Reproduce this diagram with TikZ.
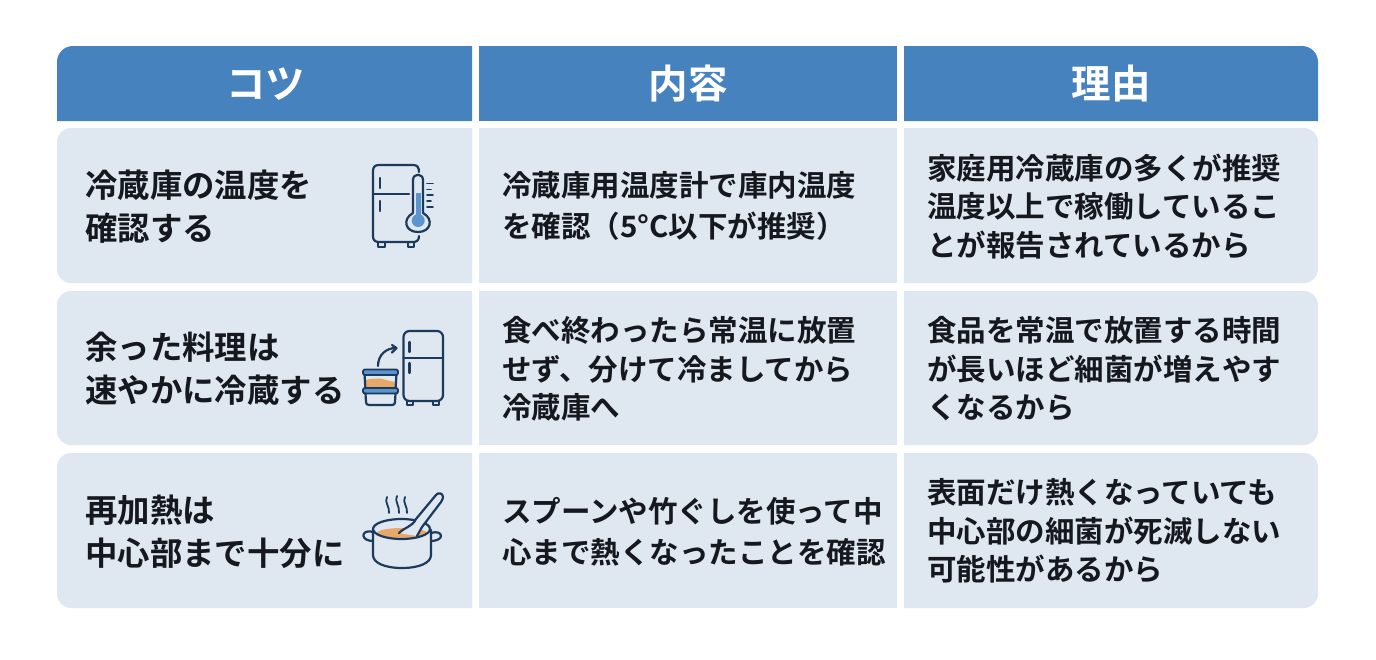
\documentclass[tikz,border=0pt]{standalone}
\usepackage{fontspec}
\newfontfamily\jp{Noto Sans CJK JP}[BoldFont={* Bold}]
\definecolor{hdr}{HTML}{4682BE}
\definecolor{cell}{HTML}{DFE7F0}
\definecolor{ink}{HTML}{15181F}
\definecolor{ico}{HTML}{1C3A5C}
\definecolor{icb}{HTML}{5B95CF}
\definecolor{ico2}{HTML}{E8A868}
\tikzset{
 hd/.style={font=\jp\bfseries\fontsize{39.5}{40}\selectfont,text=white,anchor=center,inner sep=0},
 ta/.style={font=\jp\fontsize{32.4}{43}\selectfont\bfseries,text=ink,anchor=west,align=left,inner sep=0},
 tb/.style={font=\jp\fontsize{29.5}{41}\selectfont\bfseries,text=ink,anchor=west,align=left,inner sep=0},
 tc/.style={font=\jp\fontsize{29.5}{38.5}\selectfont\bfseries,text=ink,anchor=west,align=left,inner sep=0},
 ic/.style={draw=ico,line width=2.2pt,line cap=round,line join=round,fill=none},
 ict/.style={ic,line width=1.8pt},
}
\begin{document}
\begin{tikzpicture}[x=1pt,y=-1pt]
\useasboundingbox (0,0) rectangle (1376,659);
\fill[white] (0,0) rectangle (1376,659);
% headers
\fill[hdr] (472,121) -- (57,121) [rounded corners=16pt] -- (57,46) [sharp corners] -- (472,46) -- cycle;
\fill[hdr] (479,46) rectangle (897,121);
\fill[hdr] (904,46) [rounded corners=16pt] -- (1318,46) [sharp corners] -- (1318,121) -- (904,121) -- cycle;
% cells
\foreach \t/\b in {128/283,291/445,453/608}{
 \fill[cell] (472,\t) -- (472,\b) [rounded corners=14pt] -- (57,\b) -- (57,\t) [sharp corners] -- cycle;
 \fill[cell] (479,\t) rectangle (897,\b);
 \fill[cell] (904,\t) -- (904,\b) [rounded corners=14pt] -- (1318,\b) -- (1318,\t) [sharp corners] -- cycle;
}
\node[hd] (h1) at (265.5,84) {コツ};
\node[hd] (h2) at (688,84) {内容};
\node[hd] (h3) at (1111,84) {理由};
\node[ta] (a1) at (85,206.5) {冷蔵庫の温度を\\確認する};
\node[tb] (b1) at (502,206) {冷蔵庫用温度計で庫内温度\\を確認（5°C以下が推奨）};
\node[tc] (c1) at (927,206.5) {家庭用冷蔵庫の多くが推奨\\温度以上で稼働しているこ\\とが報告されているから};
\node[ta] (a2) at (85,369) {余った料理は\\速やかに冷蔵する};
\node[tc] (b2) at (502,369) {食べ終わったら常温に放置\\せず、分けて冷ましてから\\冷蔵庫へ};
\node[tc] (c2) at (927,369) {食品を常温で放置する時間\\が長いほど細菌が増えやす\\くなるから};
\node[ta] (a3) at (85,531.5) {再加熱は\\中心部まで十分に};
\node[tb] (b3) at (502,532) {スプーンや竹ぐしを使って中\\心まで熱くなったことを確認};
\node[tc] (c3) at (927,531) {表面だけ熱くなっていても\\中心部の細菌が死滅しない\\可能性があるから};
% icon 1: refrigerator with thermometer
\draw[ic] (419,172) .. controls (419,167) and (417,165) .. (413,165) -- (379,165) .. controls (375,165) and (373,167) .. (373,171) -- (373,236) .. controls (373,240) and (375,242) .. (379,242) -- (413,242) .. controls (417,242) and (419,240) .. (419,236);
\draw[ic] (373,194) -- (409,194);
\draw[ic] (380,178) -- (380,188) (380,201) -- (380,211);
\draw[ict] (378,242) rectangle (385,247) (408,242) rectangle (414,247);
\fill[icb] (416,193) rectangle (420.5,216);
\fill[icb] (418.2,220.5) circle (6.5);
\draw[ic] (413,213) -- (413,180) .. controls (413,173) and (423,173) .. (423,180) -- (423,213) .. controls (434,219) and (431,232) .. (418,232) .. controls (405,232) and (402,219) .. (413,213);
\draw[ict] (427,183.5) -- (433,183.5) (427,189.5) -- (431,189.5) (427,195) -- (433,195) (427,201) -- (431,201) (427,207) -- (433,207);
% icon 2: containers and refrigerator
\draw[ic,rounded corners=6pt] (403.5,331) rectangle (443,401);
\draw[ic] (403.5,358) -- (443,358);
\draw[ic] (409.5,342) -- (409.5,352) (409.5,363) -- (409.5,373);
\draw[ict] (407,401) rectangle (413,405) (433,401) rectangle (439,405);
\draw[ic] (378,366) .. controls (378,355) and (386,348) .. (396,348);
\draw[ic] (392,345) -- (396.5,348) -- (392,352.5);
\fill[ico2] (366,380) .. controls (372,378) and (376,379) .. (381,378.5) .. controls (385,380) and (390,381) .. (395,382) -- (395,389) -- (366,389) -- cycle;
\draw[ic] (364.5,374) -- (365.5,390) (396.5,374) -- (395.5,390);
\draw[ic,fill=icb,line width=1.8pt,rounded corners=2pt] (363,369.5) rectangle (398,375);
\draw[ic,fill=icb,line width=1.8pt,rounded corners=2pt] (363,388) rectangle (398,393.5);
\draw[ic] (365.5,393.5) -- (366,402) .. controls (366,404) and (367,405) .. (369,405) -- (392,405) .. controls (394,405) and (395,404) .. (395,402) -- (395.5,393.5);
% icon 3: pot and spoon
\fill[ico2] (402,533) ellipse [x radius=25,y radius=5];
\draw[ic] (401.5,529) ellipse [x radius=28.5,y radius=10];
\draw[ic] (373,530) -- (373,555) .. controls (373,563) and (385,568) .. (402,568) .. controls (419,568) and (431,563) .. (431,555) -- (431,530);
\draw[ic] (373,532) .. controls (366,530) and (363,533) .. (363.5,536) .. controls (364,539) and (368,541) .. (373,541);
\draw[ic] (431,533) .. controls (437,531) and (441,533) .. (441,536) .. controls (441,539) and (436,541) .. (431,541);
\fill[cell] (399,533) .. controls (405,527) and (412,527) .. (416,519) -- (436,495) .. controls (438,492) and (443,493) .. (443,497) .. controls (443,499) and (442,500) .. (441,502) -- (422,527) -- (417,536) -- cycle;
\draw[ic] (399,533) .. controls (405,527) and (412,527) .. (416,519) -- (436,495) .. controls (438,492) and (443,493) .. (443,497) .. controls (443,499) and (442,500) .. (441,502) -- (422,527) -- (417,536);
\draw[ict] (387,497) .. controls (384,502) and (390,507) .. (389,513);
\draw[ict] (397,496) .. controls (394,501) and (400,506) .. (399,513);
\draw[ict] (405,497) .. controls (402,502) and (408,507) .. (407,513);
\end{tikzpicture}
\end{document}
